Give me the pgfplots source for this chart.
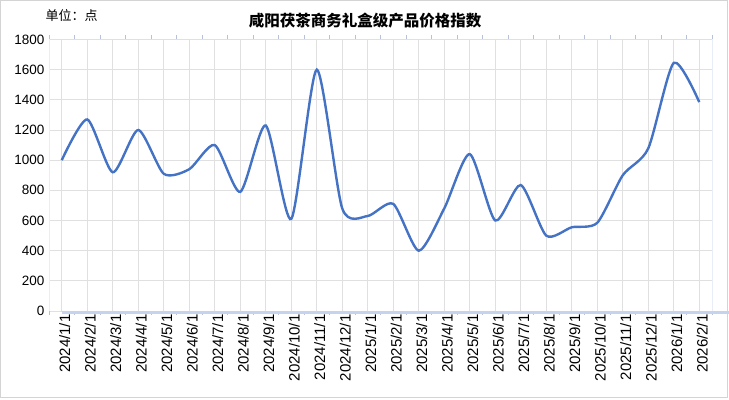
\documentclass[border=0pt]{standalone}
\usepackage{fontspec}
\setmainfont{Liberation Sans}
\newfontfamily\cjk{Noto Sans CJK SC}
\usepackage{pgfplots}
\pgfplotsset{compat=1.18}
\definecolor{lineblue}{HTML}{4472C4}
\definecolor{axisblue}{HTML}{C5D3EE}
\definecolor{gridgray}{HTML}{E0E0E0}
\definecolor{bordergray}{HTML}{D4D4D4}
\begin{document}
\begin{tikzpicture}[x=1bp,y=1bp]
\path[use as bounding box] (0,0) rectangle (729,399);
\draw[bordergray, line width=1.2bp] (0.6,1.2) rectangle (727.2,398.4);
\node[anchor=center, font=\cjk\bfseries\fontsize{15.5bp}{17bp}\selectfont] at (365,378) {咸阳茯茶商务礼盒级产品价格指数};
\node[anchor=west, font=\cjk\fontsize{13bp}{14bp}\selectfont] at (42,383) {单位：点};
\begin{axis}[
  at={(49bp,88bp)}, anchor=south west,
  scale only axis, width=663bp, height=271.5bp,
  xmin=-0.5, xmax=25.5, ymin=0, ymax=1800,
  ytick={0,200,...,1800},
  xtick={0,...,25},
  minor xtick={-0.5,0.5,...,25.5},
  xticklabels={2024/1/1,2024/2/1,2024/3/1,2024/4/1,2024/5/1,2024/6/1,2024/7/1,2024/8/1,2024/9/1,2024/10/1,2024/11/1,2024/12/1,2025/1/1,2025/2/1,2025/3/1,2025/4/1,2025/5/1,2025/6/1,2025/7/1,2025/8/1,2025/9/1,2025/10/1,2025/11/1,2025/12/1,2026/1/1,2026/2/1},
  xticklabel style={rotate=90, anchor=east, font=\fontsize{15bp}{16bp}\selectfont, yshift=-3bp},
  yticklabel style={font=\fontsize{13.5bp}{15bp}\selectfont, xshift=-1bp},
  /pgf/number format/assume math mode=true,
  /pgf/number format/1000 sep={},
  xmajorgrids=true, ymajorgrids=true, xminorgrids=false,
  grid style={gridgray, line width=0.8bp},
  major tick length=0pt,
  minor tick length=4bp,
  minor tick style={axisblue!80!gray, line width=0.8bp},
  tick align=outside,
  axis line style={draw=none},
  clip=false,
]
\draw[axisblue, line width=3bp] (axis cs:-0.5,0) ++(0,-1.5bp) -- ++(663bp,0);
\draw[axisblue!40, line width=1bp] (axis cs:-0.5,0) -- (axis cs:-0.5,1800);
\draw[axisblue!40, line width=1bp] (axis cs:25.5,0) -- (axis cs:25.5,1800);
\addplot[lineblue, line width=2.4bp, smooth, tension=0.42] coordinates {
(0,1000) (1,1270) (2,920) (3,1200) (4,910) (5,940) (6,1100) (7,790) (8,1230) (9,610)
(10,1600) (11,680) (12,630) (13,710) (14,400) (15,680) (16,1040) (17,600) (18,835) (19,500)
(20,555) (21,585) (22,900) (23,1078) (24,1645) (25,1385)
};
\end{axis}
\end{tikzpicture}
\end{document}
